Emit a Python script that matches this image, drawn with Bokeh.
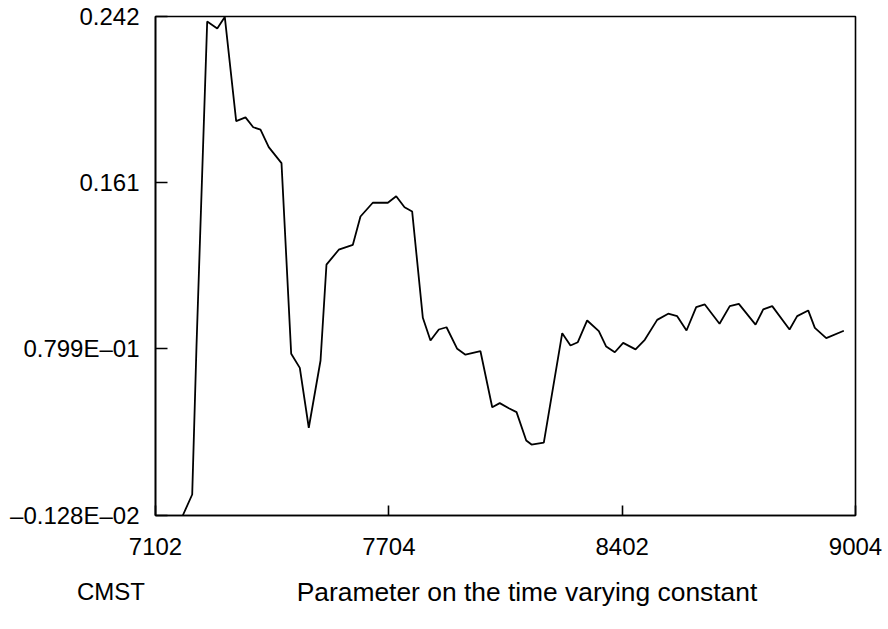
from bokeh.plotting import figure
from bokeh.models import Range1d, FixedTicker, Div
from bokeh.layouts import column
from bokeh.embed import file_html
from bokeh.resources import INLINE

# x in quarters since 1971 Q2 (7102); series values
x_vals = [3.04, 4.09, 4.57, 5.76, 6.88, 7.72, 8.99, 10.03, 10.89, 11.70, 12.62, 14.04,
          15.12, 16.08, 17.08, 18.39, 19.05, 20.42,
          21.99, 22.84, 24.21, 25.89, 26.82, 27.75, 28.60,
          29.79, 30.64, 31.57, 32.43, 33.62, 34.54, 36.21,
          37.52, 38.36, 39.37, 40.23, 41.31, 41.90, 43.27,
          45.32, 46.24, 47.06, 48.10, 49.40, 50.22, 51.18,
          52.11, 53.49, 54.52, 55.90, 57.13, 58.13, 59.17, 60.25, 61.21, 62.85, 63.99, 65.00,
          66.86, 67.72, 68.72, 70.65, 71.50, 72.73, 73.47, 74.74, 76.70]
y_vals = [-0.00128, 0.00896, 0.0816, 0.2396, 0.2362, 0.2418, 0.1910, 0.1928, 0.1880, 0.1869, 0.1783, 0.1705,
          0.0776, 0.0707, 0.0415, 0.0743, 0.1210, 0.1283,
          0.1307, 0.1445, 0.1512, 0.1512, 0.1544, 0.1490, 0.1469,
          0.0951, 0.0840, 0.0894, 0.0905, 0.0800, 0.0771, 0.0788,
          0.0515, 0.0535, 0.0510, 0.0491, 0.0353, 0.0333, 0.0342,
          0.0876, 0.0816, 0.0832, 0.0938, 0.0886, 0.0811, 0.0783,
          0.0829, 0.0797, 0.0844, 0.0941, 0.0971, 0.0959, 0.0889, 0.1003, 0.1016, 0.0922, 0.1008, 0.1019,
          0.0918, 0.0992, 0.1008, 0.0894, 0.0959, 0.0987, 0.0902, 0.0852, 0.0888]

x_ticks = [0, 26, 52, 78]
x_tick_labels = ["7102", "7704", "8402", "9004"]
y_ticks = [-0.00128, 0.0799, 0.161, 0.242]
y_tick_labels = ["\u20130.128E\u201302", "0.799E\u201301", "0.161", "0.242"]

series_name = "CMST"
caption = "Parameter on the time varying constant"

FONT = "Liberation Sans"
FS = "24px"

p = figure(width=886, height=565, output_backend="svg", toolbar_location=None,
           x_range=Range1d(x_ticks[0], x_ticks[-1]), y_range=Range1d(y_ticks[0], y_ticks[-1]),
           min_border_left=155, min_border_right=31, min_border_top=16, min_border_bottom=50)

p.line(x_vals, y_vals, line_color="black", line_width=1.8)

p.xgrid.visible = False
p.ygrid.visible = False
p.outline_line_color = "black"
p.outline_line_width = 1.6
p.background_fill_color = "white"
p.border_fill_color = "white"

p.xaxis.ticker = FixedTicker(ticks=x_ticks)
p.xaxis.major_label_overrides = {t: l for t, l in zip(x_ticks, x_tick_labels)}
p.yaxis.ticker = FixedTicker(ticks=y_ticks)
p.yaxis.major_label_overrides = {t: l for t, l in zip(y_ticks, y_tick_labels)}

for ax in (p.xaxis, p.yaxis):
    ax.minor_tick_line_color = None
    ax.major_tick_out = 0
    ax.axis_line_color = "black"
    ax.axis_line_width = 1.6
    ax.major_tick_line_color = "black"
    ax.major_tick_line_width = 1.6
    ax.major_label_text_font = FONT
    ax.major_label_text_font_size = FS
    ax.major_label_text_color = "black"

p.xaxis.major_tick_in = 10
p.yaxis.major_tick_in = 12
p.xaxis.major_label_standoff = 22
p.yaxis.major_label_standoff = 16

caption_html = (
    '<div style="position:relative;width:880px;height:50px;'
    "font-family:'Liberation Sans',Arial,sans-serif;color:black;line-height:28px;\">"
    '<span style="position:absolute;left:51px;top:13px;width:120px;text-align:center;font-size:24px;">'
    f'{series_name}</span>'
    '<span style="position:absolute;left:227px;top:13px;width:600px;text-align:center;font-size:26.4px;">'
    f'{caption}</span></div>'
)
cap = Div(text=caption_html, width=880, height=50, margin=0)

layout = column(p, cap, spacing=0)

open("out.html", "w").write(file_html(layout, INLINE))
